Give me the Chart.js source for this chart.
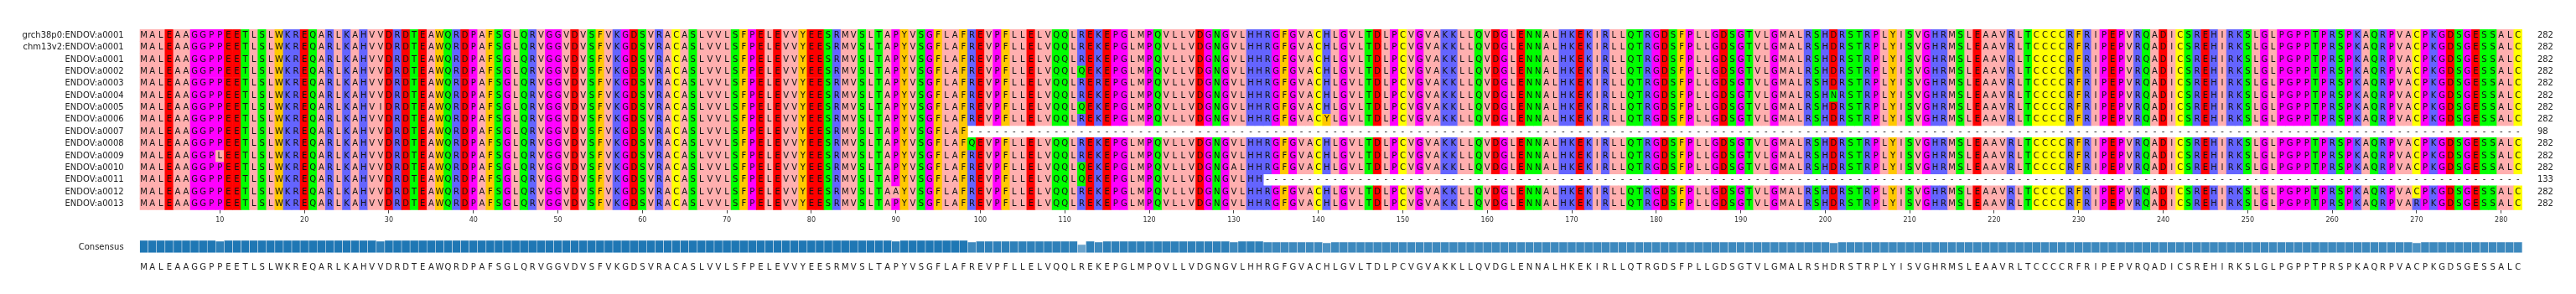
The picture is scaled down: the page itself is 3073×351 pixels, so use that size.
<!DOCTYPE html>
<html><head><meta charset="utf-8">
<script src="https://cdn.jsdelivr.net/npm/chart.js@4.4.1/dist/chart.umd.min.js"></script>
<style>
html,body{margin:0;padding:0;background:#fff;width:3073px;height:351px;overflow:hidden}
canvas{position:absolute;left:0}
#top{top:0}
#bot{top:270px}
</style></head><body>
<canvas id="top" width="3073" height="270"></canvas>
<canvas id="bot" width="3073" height="81"></canvas>
<script>
// ---- data ----
const names = ['grch38p0:ENDOV:a0001','chm13v2:ENDOV:a0001','ENDOV:a0001','ENDOV:a0002','ENDOV:a0003',
  'ENDOV:a0004','ENDOV:a0005','ENDOV:a0006','ENDOV:a0007','ENDOV:a0008','ENDOV:a0009','ENDOV:a0010',
  'ENDOV:a0011','ENDOV:a0012','ENDOV:a0013'];
const seqLengths = [282,282,282,282,282,282,282,282,98,282,282,282,133,282,282];
const consensusChunks = [
  'MALEAAGGP','PEETLSLWKREQARLKAHVVDRDTEA','WQRDPAFSGLQRVGGVDVSFVKGDS','VRACASLVVLSFPELEVVYEESRMV',
  'SLTAPYVSGFLAFREVPFLLELVQQL','REKEPGLMPQVLLVDGNGVLHHRGF','GVACHLGVLTDLPCVGVAKKLLQVD',
  'GLENNALHKEKIRLLQTRGDSFPLLG','DSGTVLGMALRSHDRSTRPLYISVG','HRMSLEAAVRLTCCCCRFRIPEPVRQ',
  'ADICSREHIRKSLGLPGPPTPRSPK','AQRPVACPKGDSGESSALC'];
const consensus = consensusChunks.join('');
// [row, position (1-based), residue]
const substitutions = [[3,112,'Q'],[4,114,'R'],[5,201,'N'],[6,29,'I'],[6,112,'Q'],[7,141,'Y'],
  [9,99,'Q'],[10,10,'L'],[11,112,'Q'],[11,130,'A'],[12,112,'Q'],[13,90,'A'],[14,270,'R']];
const zappo = {A:'#ffafaf',I:'#ffafaf',L:'#ffafaf',M:'#ffafaf',V:'#ffafaf',F:'#ffc800',W:'#ffc800',Y:'#ffc800',
  K:'#6464ff',R:'#6464ff',H:'#6464ff',D:'#ff0000',E:'#ff0000',S:'#00ff00',T:'#00ff00',N:'#00ff00',Q:'#00ff00',
  P:'#ff00ff',G:'#ff00ff',C:'#ffff00'};

// ---- build alignment rows ----
const L = consensus.length;
const positions = Array.from({length: L}, (_, i) => i + 1);
const rows = names.map((n, r) => {
  const s = consensus.split('').map((c, j) => (j < seqLengths[r] ? c : '-'));
  return s;
});
substitutions.forEach(([r, p, c]) => { rows[r][p - 1] = c; });
// identity with the consensus residue, per column
const conservation = positions.map((p, j) =>
  rows.reduce((a, s) => a + (s[j] === consensus[j] ? 1 : 0), 0) / rows.length);

const FONT = 'DejaVu Sans';
const letterPlugin = {
  id: 'letters',
  afterDatasetsDraw(chart) {
    const {ctx, scales: {x, y}} = chart;
    ctx.save();
    ctx.font = '10px "' + FONT + '"';
    ctx.textAlign = 'center';
    ctx.textBaseline = 'middle';
    ctx.fillStyle = '#111';
    rows.forEach((seq, r) => {
      const py = y.getPixelForValue(r + 0.5);
      seq.forEach((c, j) => ctx.fillText(c, x.getPixelForValue(j), py));
    });
    ctx.restore();
  }
};

new Chart(document.getElementById('top'), {
  type: 'bar',
  data: {
    labels: positions,
    datasets: rows.map((seq, r) => ({
      data: seq.map(c => (c === '-' ? null : [r, r + 1])),
      backgroundColor: seq.map(c => zappo[c] || '#ffffff'),
      yAxisID: 'y'
    }))
  },
  options: {
    responsive: false, animation: false, devicePixelRatio: 1,
    layout: {padding: {top: 35, left: 0, right: 0, bottom: 0}},
    plugins: {legend: {display: false}, tooltip: {enabled: false}},
    datasets: {bar: {grouped: false, barPercentage: 1, categoryPercentage: 1, borderWidth: 0}},
    scales: {
      x: {
        type: 'category', offset: true,
        grid: {display: true, drawOnChartArea: false, offset: false, tickLength: 4, tickColor: '#444', tickWidth: 1},
        border: {display: false},
        ticks: {autoSkip: false, maxRotation: 0, padding: 3, font: {family: FONT, size: 8}, color: '#333'},
        afterBuildTicks(a) { a.ticks = a.ticks.filter(t => (t.value + 1) % 10 === 0); },
        afterFit(a) { a.height = 19.3; }
      },
      y: {
        type: 'linear', position: 'left', min: 0, max: 15, reverse: true,
        grid: {display: false}, border: {display: false},
        afterBuildTicks(a) { a.ticks = names.map((_, i) => ({value: i + 0.5})); },
        ticks: {autoSkip: false, padding: 11, font: {family: FONT, size: 10}, color: '#222',
          callback: v => names[Math.floor(v)]},
        afterFit(a) { a.width = 166.6; }
      },
      y2: {
        type: 'linear', position: 'right', min: 0, max: 15, reverse: true,
        grid: {display: false}, border: {display: false},
        afterBuildTicks(a) { a.ticks = seqLengths.map((_, i) => ({value: i + 0.5})); },
        ticks: {autoSkip: false, padding: 10, font: {family: FONT, size: 10}, color: '#222',
          callback: v => String(seqLengths[Math.floor(v)])},
        afterFit(a) { a.width = 64.1; }
      }
    }
  },
  plugins: [letterPlugin]
});

const base = [31, 119, 180];
new Chart(document.getElementById('bot'), {
  type: 'bar',
  data: {
    labels: consensus.split(''),
    datasets: [{
      data: conservation,
      backgroundColor: conservation.map(f => 'rgb(' + base.map(b => Math.round(255 - (255 - b) * f)).join(',') + ')'),
      borderColor: '#dfe8f0', borderWidth: 0.6, borderSkipped: 'start',
      barPercentage: 1, categoryPercentage: 1
    }]
  },
  options: {
    responsive: false, animation: false, devicePixelRatio: 1,
    layout: {padding: {top: 3.3, left: 0, right: 64.1, bottom: 0}},
    plugins: {legend: {display: false}, tooltip: {enabled: false}},
    scales: {
      x: {
        type: 'category', offset: true,
        grid: {display: false}, border: {display: false},
        ticks: {autoSkip: false, maxRotation: 0, minRotation: 0, padding: 4, font: {family: FONT, size: 10}, color: '#222'},
        afterFit(a) { a.height = 49.3; }
      },
      y: {
        type: 'linear', min: 0, max: 1,
        grid: {display: false}, border: {display: false},
        afterBuildTicks(a) { a.ticks = [{value: 0.4}]; },
        ticks: {padding: 11, font: {family: FONT, size: 10}, color: '#222', callback: () => 'Consensus'},
        afterFit(a) { a.width = 166.6; }
      }
    }
  }
});
</script>
</body></html>
